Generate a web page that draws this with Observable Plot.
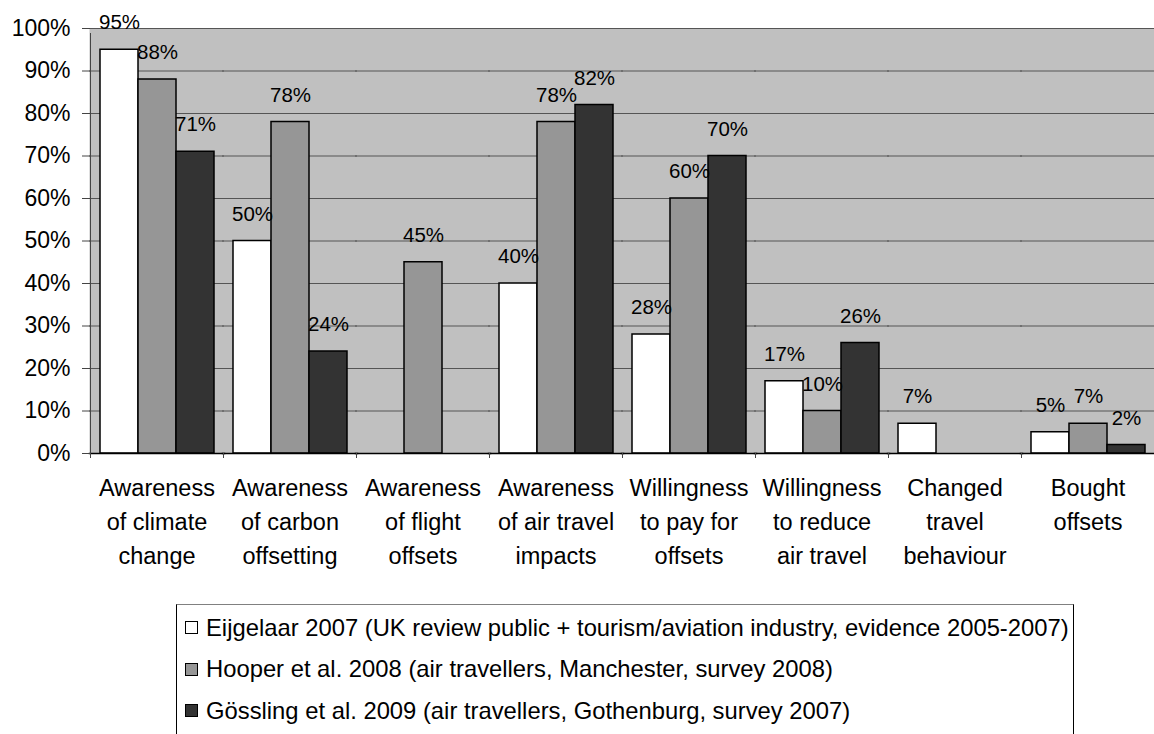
<!DOCTYPE html>
<html>
<head>
<meta charset="utf-8">
<script src="https://cdn.jsdelivr.net/npm/d3@7"></script>
<script src="https://cdn.jsdelivr.net/npm/@observablehq/plot@0.6"></script>
<style>
  html, body { margin: 0; padding: 0; background: #fff; }
  body { font-family: "Liberation Sans", Arial, sans-serif; width: 1154px; height: 734px; position: relative; overflow: hidden; }
  #chart { position: absolute; left: 0; top: 0; }
  #legend {
    position: absolute; left: 176px; top: 604px; width: 898px; height: 150px;
    border: 1px solid #000; border-top-color: #808080; box-sizing: border-box; background: #fff;
    padding-top: 2px;
  }
  .item { display: flex; align-items: center; height: 41.5px; font-size: 23.8px; color: #000; white-space: nowrap; }
  .sw { width: 11px; height: 11px; border: 1px solid #000; margin-left: 8px; margin-right: 8px; flex: none; }
</style>
</head>
<body>
<div id="chart"></div>
<div id="legend"></div>
<script>
// Categories (x-axis groups)
const categories = [
  "Awareness\nof climate\nchange",
  "Awareness\nof carbon\noffsetting",
  "Awareness\nof flight\noffsets",
  "Awareness\nof air travel\nimpacts",
  "Willingness\nto pay for\noffsets",
  "Willingness\nto reduce\nair travel",
  "Changed\ntravel\nbehaviour",
  "Bought\noffsets"
];
// Series names
const seriesNames = [
  "Eijgelaar 2007 (UK review public + tourism/aviation industry, evidence 2005-2007)",
  "Hooper et al. 2008 (air travellers, Manchester, survey 2008)",
  "Gössling et al. 2009 (air travellers, Gothenburg, survey 2007)"
];
// Series values (percent); null = no data
const eijgelaar = [95, 50, null, 40, 28, 17, 7, 5];
const hooper    = [88, 78, 45, 78, 60, 10, null, 7];
const gossling  = [71, 24, null, 82, 70, 26, null, 2];
// Series colours
const seriesColors = ["#ffffff", "#969696", "#333333"];
// Y tick values
const yTicks = [0, 10, 20, 30, 40, 50, 60, 70, 80, 90, 100];

const seriesValues = [eijgelaar, hooper, gossling];
const data = [];
categories.forEach((c, i) => {
  seriesNames.forEach((s, j) => {
    const v = seriesValues[j][i];
    if (v != null) data.push({category: c, series: s, value: v});
  });
});

const W = 1154, H = 600, ML = 90, MR = 0;
const band = (W - ML - MR) / categories.length;

const chart = Plot.plot({
  width: W,
  height: H,
  marginLeft: ML,
  marginRight: MR,
  marginTop: 28,
  marginBottom: 147,
  style: {fontFamily: "'Liberation Sans', Arial, sans-serif", fontSize: "23px", color: "#000", background: "transparent", overflow: "visible"},
  fx: {domain: categories, padding: 0, label: null},
  x: {domain: seriesNames, paddingInner: 0, paddingOuter: 0.235, axis: null},
  y: {domain: [0, 100], label: null},
  color: {domain: seriesNames, range: seriesColors},
  marks: [
    Plot.frame({fill: "#c0c0c0", stroke: "none", insetLeft: -1, insetRight: -1}),
    Plot.ruleY(yTicks, {stroke: "#555555", strokeWidth: 1, insetLeft: -1, insetRight: -1}),
    Plot.barY(data, {fx: "category", x: "series", y: "value", fill: "series", stroke: "#000", strokeWidth: 1.5}),
    Plot.text(data, {fx: "category", x: "series", y: "value", text: d => d.value + "%", dy: -27, lineAnchor: "middle", fontSize: 20.5, fill: "#000"}),
    Plot.frame({anchor: "bottom", stroke: "#000", strokeWidth: 1.5, insetLeft: -1, insetRight: -1}),
    // y axis line, drawn only in the first facet at its left edge
    Plot.ruleX([categories[0]], {fx: d => d, x: null, y1: 0, y2: 100, dx: -band / 2, insetBottom: -5, stroke: "#444"}),
    Plot.axisY(yTicks, {anchor: "left", tickFormat: d => d + "%", tickSize: 8, tickPadding: 12, fontSize: 23, label: null, stroke: "#444"}),
    Plot.axisFx({anchor: "bottom", tickSize: 0, tickPadding: 19, lineHeight: 1.43, fontSize: 23.5, label: null}),
    Plot.axisFx({anchor: "bottom", tickSize: 5, tickFormat: () => "", dx: -band / 2, label: null, stroke: "#444"})
  ]
});
document.getElementById("chart").appendChild(chart);

const legend = document.getElementById("legend");
seriesNames.forEach((s, j) => {
  const row = document.createElement("div");
  row.className = "item";
  const sw = document.createElement("span");
  sw.className = "sw";
  sw.style.background = seriesColors[j];
  const t = document.createElement("span");
  t.textContent = s;
  row.appendChild(sw);
  row.appendChild(t);
  legend.appendChild(row);
});
</script>
</body>
</html>
